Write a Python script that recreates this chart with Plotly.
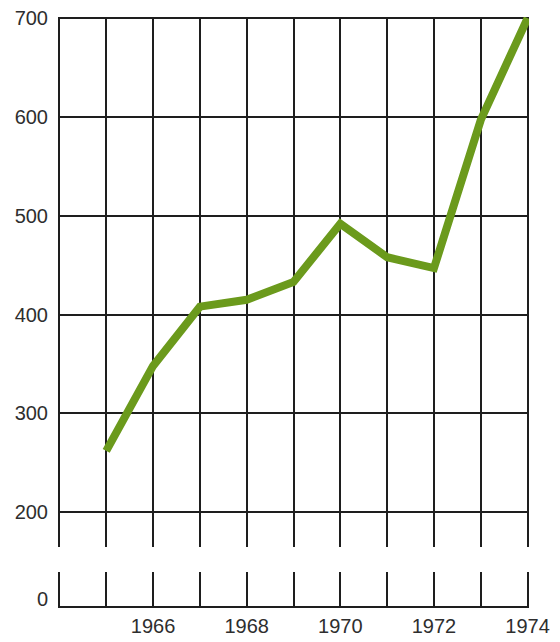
import plotly.graph_objects as go

years = [1965, 1966, 1967, 1968, 1969, 1970, 1971, 1972, 1973, 1974]
values = [262, 348, 408, 415, 433, 492, 458, 447, 597, 700]

grid_years = list(range(1964, 1975))
year_labels = ["", "", "1966", "", "1968", "", "1970", "", "1972", "", "1974"]
y_ticks = [200, 300, 400, 500, 600, 700]

FONT = "Liberation Sans, Arial, sans-serif"
INK = "#1e1e1e"

fig = go.Figure()
fig.add_trace(go.Scatter(x=years, y=values, mode="lines",
                         line=dict(color="#6b9a1c", width=8),
                         xaxis="x2", yaxis="y2", showlegend=False,
                         hoverinfo="skip"))
fig.add_trace(go.Scatter(x=[1964, 1974], y=[None, None], mode="lines",
                         xaxis="x", yaxis="y", showlegend=False))

x_common = dict(range=[1963.97, 1974.03], tickvals=grid_years,
                showgrid=True, gridcolor=INK, gridwidth=1.5,
                zeroline=False, showline=False, ticks="", automargin=False,
                ticklabeloverflow="allow")

# page body has an 8px margin, so the figure is shifted by (8, 8)
fig.update_layout(
    width=552, height=634,
    margin=dict(l=50, r=31, t=9, b=34),
    paper_bgcolor="white", plot_bgcolor="white",
    font=dict(family=FONT, size=20, color="#2e2e2e"),
    xaxis=dict(**x_common, ticktext=year_labels, ticklabelstandoff=4,
               anchor="y", domain=[0, 1]),
    xaxis2=dict(**x_common, showticklabels=False, anchor="y2",
                matches="x", domain=[0, 1]),
    yaxis=dict(domain=[0, 0.061], range=[-0.8, 36], tickvals=[0],
               ticktext=["0"], showgrid=False, zeroline=True,
               zerolinecolor=INK, zerolinewidth=2,
               ticks="", ticklabelstandoff=9, ticklabelshift=-8,
               automargin=False, ticklabeloverflow="allow"),
    yaxis2=dict(domain=[0.103, 1], range=[164.6, 701.2], tickvals=y_ticks,
                showgrid=True, gridcolor=INK, gridwidth=2, zeroline=False,
                ticks="", ticklabelstandoff=9, automargin=False,
                ticklabeloverflow="allow"),
)

fig.write_html("out.html")
